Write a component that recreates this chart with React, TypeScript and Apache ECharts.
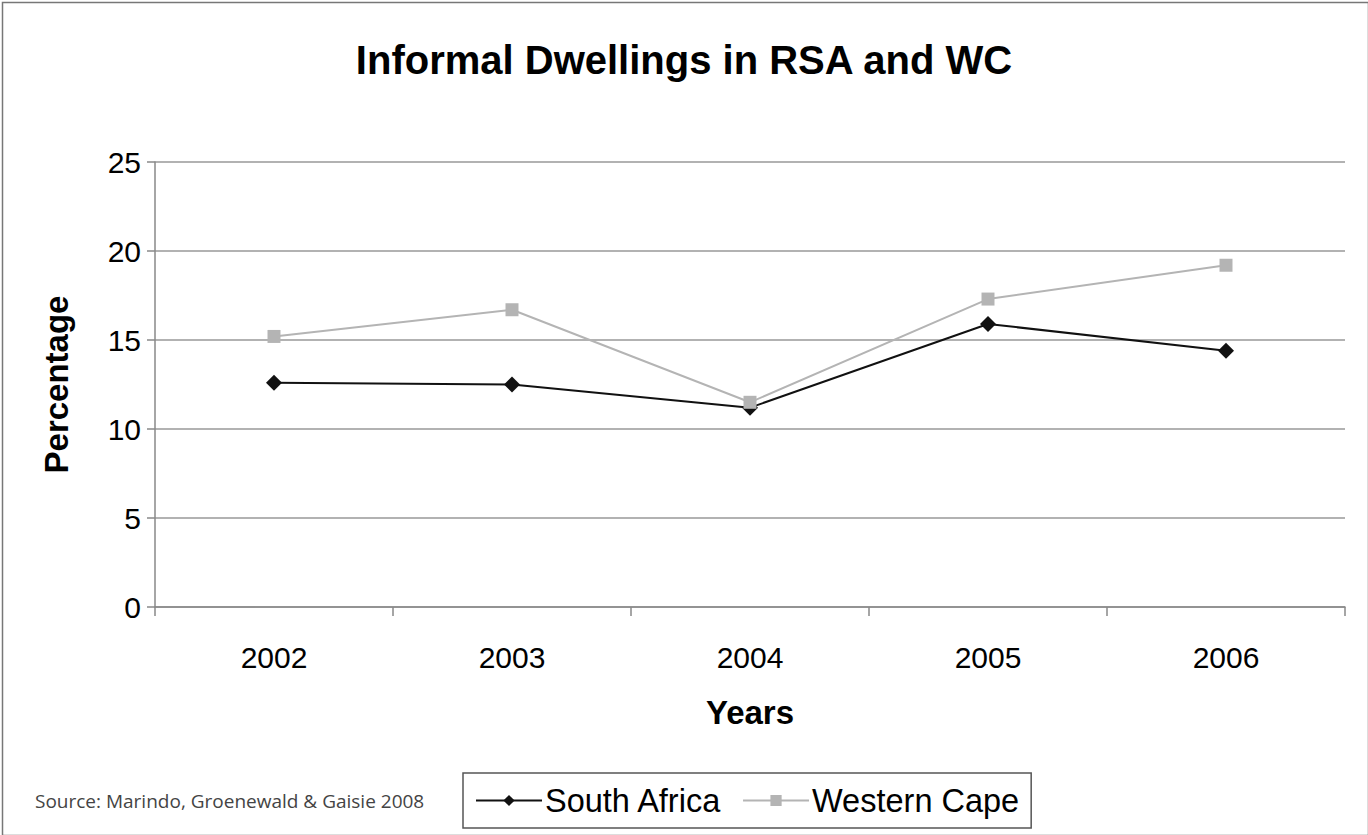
import React, { useEffect, useRef } from "react";
import * as echarts from "echarts";

const years = ["2002", "2003", "2004", "2005", "2006"];
const southAfrica = [12.6, 12.5, 11.2, 15.9, 14.4];
const westernCape = [15.2, 16.7, 11.5, 17.3, 19.2];
const yTicks = { min: 0, max: 25, interval: 5 };

export default function App() {
  const ref = useRef<HTMLDivElement>(null);
  useEffect(() => {
    const chart = echarts.init(ref.current!, null, { renderer: "svg" });
    const font = "Liberation Sans";
    chart.setOption({
      animation: false,
      backgroundColor: "#ffffff",
      title: {
        text: "Informal Dwellings in RSA and WC",
        left: "center",
        top: 35,
        textStyle: { fontFamily: font, fontWeight: "bold", fontSize: 40, color: "#000" },
      },
      grid: { left: 155, right: 23, top: 162, bottom: 228 },
      legend: {
        bottom: 7,
        left: 463,
        padding: [11, 12, 11, 12],
        borderColor: "#555",
        borderWidth: 1.5,
        itemWidth: 66,
        itemHeight: 14,
        itemGap: 20,
        textStyle: { fontFamily: font, fontSize: 32.5, color: "#000", padding: [0, 0, 0, -2] },
        data: ["South Africa", "Western Cape"],
      },
      xAxis: {
        type: "category",
        data: years,
        boundaryGap: true,
        name: "Years",
        nameLocation: "middle",
        nameGap: 89,
        nameTextStyle: { fontFamily: font, fontWeight: "bold", fontSize: 33, color: "#000" },
        axisLine: { lineStyle: { color: "#888", width: 1.5 } },
        axisTick: { show: true, length: 9, inside: false, lineStyle: { color: "#888", width: 1.5 } },
        axisLabel: { fontFamily: font, fontSize: 30, color: "#000", margin: 35 },
      },
      yAxis: {
        type: "value",
        min: yTicks.min,
        max: yTicks.max,
        interval: yTicks.interval,
        name: "Percentage",
        nameLocation: "middle",
        nameGap: 82,
        nameTextStyle: { fontFamily: font, fontWeight: "bold", fontSize: 33, color: "#000" },
        axisLine: { show: true, lineStyle: { color: "#888", width: 1.5 } },
        axisTick: { show: true, length: 8, lineStyle: { color: "#888", width: 1.5 } },
        axisLabel: { fontFamily: font, fontSize: 30, color: "#000", margin: 14 },
        splitLine: { show: true, lineStyle: { color: "#999", width: 1.5 } },
      },
      series: [
        {
          name: "South Africa",
          type: "line",
          data: southAfrica,
          symbol: "diamond",
          symbolSize: 16,
          lineStyle: { color: "#111", width: 2 },
          itemStyle: { color: "#111" },
        },
        {
          name: "Western Cape",
          type: "line",
          data: westernCape,
          symbol: "rect",
          symbolSize: 13,
          lineStyle: { color: "#b4b4b4", width: 2 },
          itemStyle: { color: "#b4b4b4" },
        },
      ],
      graphic: [
        {
          type: "rect",
          left: 0,
          top: 0,
          shape: { x: 1, y: 1, width: 1366, height: 833 },
          style: { fill: "none", stroke: "#777", lineWidth: 1.5 },
        },
        {
          type: "text",
          left: 35,
          top: 791,
          style: {
            text: "Source: Marindo, Groenewald & Gaisie 2008",
            font: "19px 'Open Sans', sans-serif",
            fill: "#444",
          },
        },
      ],
    });
    return () => chart.dispose();
  }, []);
  return (
    <div
      ref={ref}
      style={{ position: "fixed", left: 0, top: 0, width: 1368, height: 835 }}
    />
  );
}
